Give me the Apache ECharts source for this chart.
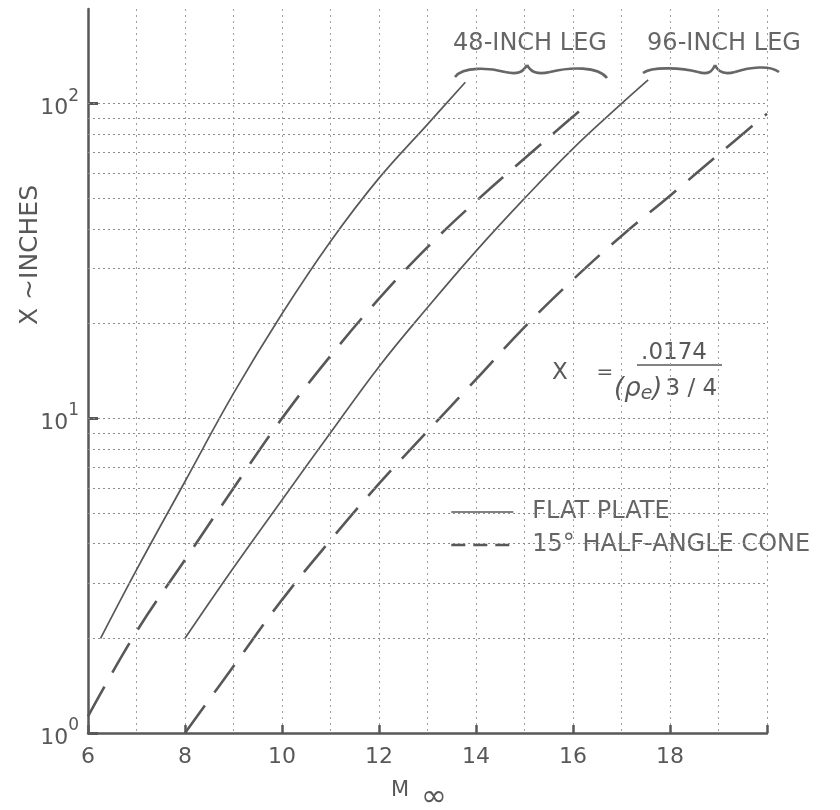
<!DOCTYPE html>
<html>
<head>
<meta charset="utf-8">
<script src="https://cdn.jsdelivr.net/npm/echarts@6/dist/echarts.min.js"></script>
<style>
  html, body { margin: 0; padding: 0; background: #fff; }
  #chart { width: 840px; height: 810px; }
</style>
</head>
<body>
<div id="chart"></div>
<script>
// Free-stream Mach number vs. transition length X, two tunnel legs
const M_FLAT_48 = [6.26, 7, 8, 9, 10, 11, 12, 13, 13.78];
const X_FLAT_48 = [2.0, 3.3, 6.3, 12.0, 21.5, 36.5, 58, 86, 117];

const M_CONE_48 = [6, 7, 8, 9, 10, 11, 12, 13, 14, 15, 16, 16.3];
const X_CONE_48 = [1.13, 2.1, 3.55, 6.0, 10, 15.8, 24, 35, 49, 67, 91, 100];

const M_FLAT_96 = [8, 9, 10, 11, 12, 13, 14, 15, 16, 17, 17.55];
const X_FLAT_96 = [2.0, 3.35, 5.5, 9.0, 14.6, 22.5, 34, 50, 72, 100, 119];

const M_CONE_96 = [8, 9, 10, 11, 12, 13, 14, 15, 16, 17, 18, 19, 20];
const X_CONE_96 = [1.0, 1.63, 2.65, 4.1, 6.2, 9.1, 13.3, 19.5, 27.6, 38, 51, 69, 93];

// horizontal rulings of the log paper and the decade ticks
const Y_RULINGS = [2, 3, 4, 5, 6, 7, 8, 9, 10, 20, 30, 40, 50, 60, 70, 80, 90, 100];
const Y_DECADES = [1, 10, 100];

const FLAT_NAME = 'FLAT PLATE';
const CONE_NAME = '15\u00B0 HALF-ANGLE CONE';

const INK = '#585858';
const FONT = 'DejaVu Sans';

const pairs = (xs, ys) => xs.map((x, i) => [x, ys[i]]);

const chart = echarts.init(document.getElementById('chart'), null, { renderer: 'canvas' });

const solidStyle = { color: INK, width: 1.7, type: 'solid' };
const dashStyle = { color: INK, width: 2.6, type: [34, 16] };

function curve(name, xs, ys, style) {
  return {
    type: 'line', name: name, data: pairs(xs, ys),
    smooth: 0.4, symbol: 'none', silent: true,
    lineStyle: style, itemStyle: { color: INK }
  };
}

function brace(segs) {
  return segs.map(s => ({
    type: 'bezierCurve', silent: true,
    shape: { x1: s[0], y1: s[1], cpx1: s[2], cpy1: s[3], cpx2: s[4], cpy2: s[5], x2: s[6], y2: s[7] },
    style: { stroke: '#666', lineWidth: 2.6, fill: null }
  }));
}

const hiddenMarker = { color: 'rgba(0,0,0,0)', borderWidth: 0, opacity: 0 };

const option = {
  backgroundColor: '#fff',
  animation: false,
  grid: { left: 88, right: 73, top: 9, bottom: 77 },
  xAxis: {
    type: 'value', min: 6, max: 20, interval: 2,
    axisLine: { lineStyle: { color: INK, width: 2.5 } },
    axisTick: { inside: true, length: 8, lineStyle: { color: INK, width: 2.5 } },
    axisLabel: {
      margin: 13, fontSize: 22, color: INK, fontFamily: FONT,
      formatter: v => (v === 20 ? '' : String(v))
    },
    splitLine: { show: true, lineStyle: { color: '#a0a0a0', width: 1, type: [2, 4] } },
    minorTick: { show: false, splitNumber: 2 },
    minorSplitLine: { show: true, lineStyle: { color: '#a0a0a0', width: 1, type: [2, 4] } }
  },
  yAxis: {
    type: 'log', logBase: 10, min: 1, max: 200,
    axisLine: { show: true, lineStyle: { color: INK, width: 2.5 } },
    axisTick: {
      show: true, inside: true, length: 10, customValues: Y_DECADES,
      lineStyle: { color: INK, width: 3 }
    },
    axisLabel: {
      margin: 9, color: INK, fontFamily: FONT,
      formatter: v => {
        const e = Math.log10(v);
        if (Math.abs(e - Math.round(e)) > 1e-6) return '';
        return '{b|10}{s|' + Math.round(e) + '}';
      },
      rich: {
        b: { fontSize: 22, fontFamily: FONT, color: INK, verticalAlign: 'bottom', lineHeight: 32 },
        s: { fontSize: 17, fontFamily: FONT, color: INK, verticalAlign: 'top', lineHeight: 32 }
      }
    },
    splitLine: { show: false }
  },
  legend: {
    orient: 'vertical', left: 445, top: 495,
    itemWidth: 62, itemHeight: 14, itemGap: 9,
    selectedMode: false,
    itemStyle: hiddenMarker,
    textStyle: { fontFamily: FONT, fontSize: 24, color: '#666', lineHeight: 24, padding: [0, 0, 0, 14] },
    data: [
      { name: FLAT_NAME, itemStyle: hiddenMarker, lineStyle: { type: 'solid', width: 1.7, color: INK } },
      { name: CONE_NAME, itemStyle: hiddenMarker, lineStyle: { type: [14, 8], width: 2.6, color: INK } }
    ]
  },
  series: [
    {
      type: 'line', name: 'rulings', data: [], silent: true, symbol: 'none',
      markLine: {
        silent: true, symbol: ['none', 'none'], animation: false,
        label: { show: false },
        lineStyle: { color: '#8c8c8c', width: 1, type: [2, 3] },
        emphasis: { disabled: true },
        data: Y_RULINGS.map(v => ({ yAxis: v }))
      }
    },
    curve(FLAT_NAME, M_FLAT_48, X_FLAT_48, solidStyle),
    curve(CONE_NAME, M_CONE_48, X_CONE_48, dashStyle),
    curve(FLAT_NAME, M_FLAT_96, X_FLAT_96, solidStyle),
    curve(CONE_NAME, M_CONE_96, X_CONE_96, dashStyle)
  ],
  graphic: [
    // axis titles
    {
      type: 'text', x: 30, y: 255, rotation: Math.PI / 2, silent: true,
      style: { text: 'X ~INCHES', font: '25px "DejaVu Sans"', fill: INK, align: 'center', verticalAlign: 'middle' }
    },
    {
      type: 'text', x: 400, y: 791, silent: true,
      style: { text: 'M', font: '21px "DejaVu Sans"', fill: INK, align: 'center', verticalAlign: 'middle' }
    },
    {
      type: 'text', x: 434, y: 798, silent: true,
      style: { text: '\u221E', font: '31px "DejaVu Sans"', fill: INK, align: 'center', verticalAlign: 'middle' }
    },
    // leg labels with braces
    {
      type: 'text', x: 530, y: 44, silent: true,
      style: { text: '48-INCH LEG', font: '24px "DejaVu Sans"', fill: '#666', align: 'center', verticalAlign: 'middle' }
    },
    {
      type: 'text', x: 724, y: 44, silent: true,
      style: { text: '96-INCH LEG', font: '24px "DejaVu Sans"', fill: '#666', align: 'center', verticalAlign: 'middle' }
    },
    ...brace([
      [455, 77, 463, 66, 490, 68, 505, 72],
      [505, 72, 518, 75, 523, 72, 527, 65],
      [527, 65, 531, 72, 537, 75, 550, 72],
      [550, 72, 570, 67, 598, 66, 607, 78]
    ]),
    ...brace([
      [643, 73, 652, 66, 683, 68, 698, 72],
      [698, 72, 708, 75, 712, 72, 715, 65],
      [715, 65, 718, 72, 724, 75, 735, 72],
      [735, 72, 750, 67, 770, 65, 779, 72]
    ]),
    // formula
    {
      type: 'text', x: 560, y: 373, silent: true,
      style: { text: 'X', font: '23px "DejaVu Sans"', fill: INK, align: 'center', verticalAlign: 'middle' }
    },
    {
      type: 'text', x: 605, y: 373, silent: true,
      style: { text: '=', font: '20px "DejaVu Sans"', fill: INK, align: 'center', verticalAlign: 'middle' }
    },
    {
      type: 'text', x: 674, y: 353, silent: true,
      style: { text: '.0174', font: '23px "DejaVu Sans"', fill: INK, align: 'center', verticalAlign: 'middle' }
    },
    {
      type: 'line', silent: true,
      shape: { x1: 637, y1: 365, x2: 722, y2: 365 },
      style: { stroke: INK, lineWidth: 1.5 }
    },
    {
      type: 'text', x: 614, y: 389, silent: true,
      style: {
        text: '{p|(\u03C1}{e|e}{p|)}{n|3 / 4}',
        align: 'left', verticalAlign: 'middle', fill: INK,
        rich: {
          p: { font: 'italic 26px "DejaVu Sans"', fill: INK, lineHeight: 30, verticalAlign: 'middle' },
          e: { font: 'italic 19px "DejaVu Sans"', fill: INK, lineHeight: 30, verticalAlign: 'bottom' },
          n: { font: '23px "DejaVu Sans"', fill: INK, lineHeight: 30, verticalAlign: 'middle', padding: [0, 0, 0, 3] }
        }
      }
    }
  ]
};

chart.setOption(option);
</script>
</body>
</html>
